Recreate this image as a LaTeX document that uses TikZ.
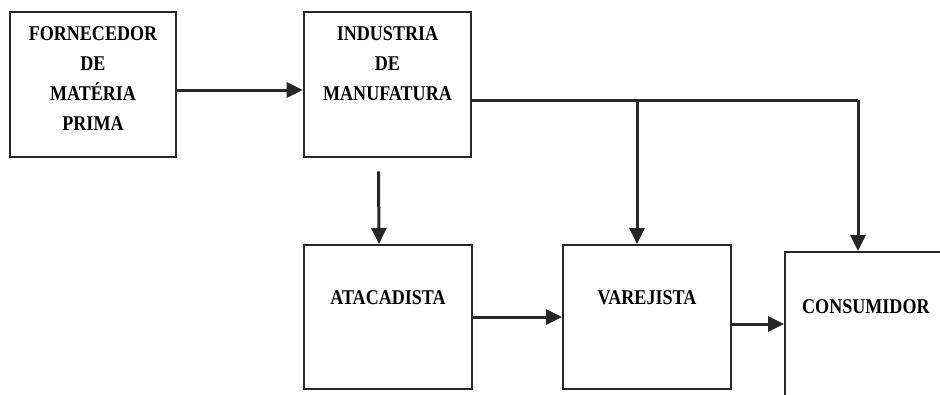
\documentclass[tikz,border=0pt]{standalone}
\usepackage{fontspec}
\setmainfont{Liberation Serif}[FakeStretch=0.86]
\usetikzlibrary{positioning,arrows.meta}

\tikzset{
    caixa/.style={draw=black!85, line width=2.6pt, minimum width=166pt, minimum height=145pt, inner sep=0pt},
    caixab/.style={draw=black!85, line width=2pt, minimum width=168pt, minimum height=144pt, inner sep=0pt},
    texto/.style={align=center, inner sep=0pt, font=\bfseries\fontsize{21}{30}\selectfont},
    linha/.style={draw=black!85, line width=3pt},
    seta/.style={linha, -{Triangle[length=16pt,width=15pt]}}
}

\begin{document}
\begin{tikzpicture}[x=1pt, y=-1pt]
    \clip (0,0) rectangle (940,394);

    % Caixas de cima
    \node[caixa] (forn) at (93,84.5) {};
    \node[texto, below=16pt of forn.north] (fornt) {FORNECEDOR\\DE\\MATÉRIA\\PRIMA};
    \node[caixa, minimum width=167pt] (ind) at (387.5,84.5) {};
    \node[texto, below=16pt of ind.north] (indt) {INDUSTRIA\\DE\\MANUFATURA};

    % Caixas de baixo
    \node[caixab] (atac) at (388,317) {};
    \node[texto, below=46pt of atac.north] (atact) {ATACADISTA};
    \node[caixab] (varej) at (647,317) {};
    \node[texto, below=46pt of varej.north] (varejt) {VAREJISTA};
    \node[caixab, minimum width=225pt, minimum height=208pt] (cons) at (897.5,356) {};
    \node[texto, anchor=north west] (const) at ([xshift=18pt,yshift=-48pt]cons.north west) {CONSUMIDOR};

    % Pontos de desvio
    \coordinate (desvio) at (637,100);
    \coordinate (canto) at (858,100);

    % Ligacoes
    \draw[seta] ([yshift=-5.5pt]forn.east) -- ([yshift=-5.5pt]ind.west);
    \draw[linha] ([yshift=-15.5pt]ind.east) -- (canto);
    \draw[seta] (desvio) -- (varej.north -| desvio);
    \draw[seta] (canto) -- (cons.north -| canto);
    \draw[seta] ([xshift=-9pt,yshift=-13pt]ind.south) -- ([xshift=-9pt]atac.north);
    \draw[seta] (atac.east) -- (varej.west);
    \draw[seta] ([yshift=-7pt]varej.east) -- ([yshift=-7pt]varej.east -| cons.west);
\end{tikzpicture}
\end{document}
